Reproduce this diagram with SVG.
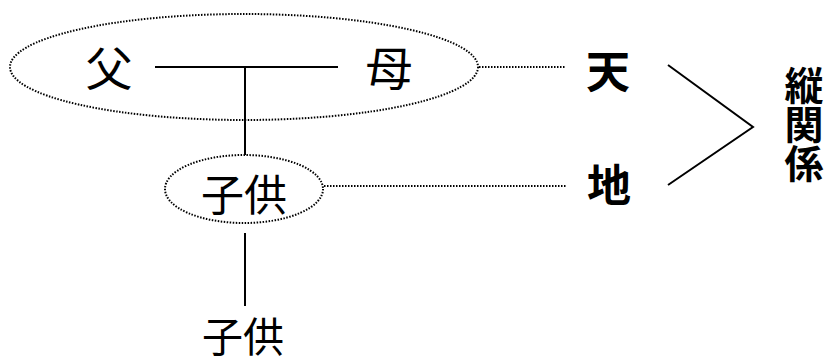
<svg xmlns="http://www.w3.org/2000/svg" width="826" height="358" viewBox="0 0 826 358">
<style>
.dot{fill:none;stroke:#000;stroke-width:2;stroke-dasharray:1.5 1.5}
.ln{fill:none;stroke:#000;stroke-width:2}
.t{font-family:"Noto Sans CJK JP","Noto Sans CJK SC",sans-serif;text-anchor:middle;dominant-baseline:central;fill:#000}
.b{font-weight:bold}
.v{font-family:"Noto Sans CJK JP","Noto Sans CJK SC",sans-serif;font-weight:bold;writing-mode:vertical-rl;text-anchor:start;fill:#000}
</style>
<rect width="826" height="358" fill="#fff"/>
<g id="connectors">
<line class="ln" x1="155" y1="67" x2="338" y2="67"/>
<line class="ln" x1="245" y1="67" x2="245" y2="155"/>
<line class="ln" x1="245" y1="233" x2="245" y2="306"/>
<line class="dot" x1="479" y1="67" x2="566" y2="67"/>
<line class="dot" x1="324" y1="186" x2="567" y2="186"/>
<polyline class="ln" points="668,65 753,127 668,185"/>
</g>
<g id="parents">
<ellipse class="dot" cx="244" cy="67" rx="234" ry="53"/>
<text class="t" x="109" y="65" font-size="47">父</text>
<text class="t" x="389" y="65" font-size="47">母</text>
</g>
<g id="child">
<ellipse class="dot" cx="244" cy="189" rx="79" ry="34"/>
<text class="t" x="244" y="192" font-size="43">子供</text>
</g>
<g id="grandchild">
<text class="t" x="243" y="334" font-size="41">子供</text>
</g>
<g id="ten">
<text class="t b" x="608" y="69" font-size="44">天</text>
</g>
<g id="chi">
<text class="t b" x="609" y="183" font-size="44">地</text>
</g>
<g id="tate">
<text class="v" x="804" y="66" font-size="39">縦関係</text>
</g>
</svg>
